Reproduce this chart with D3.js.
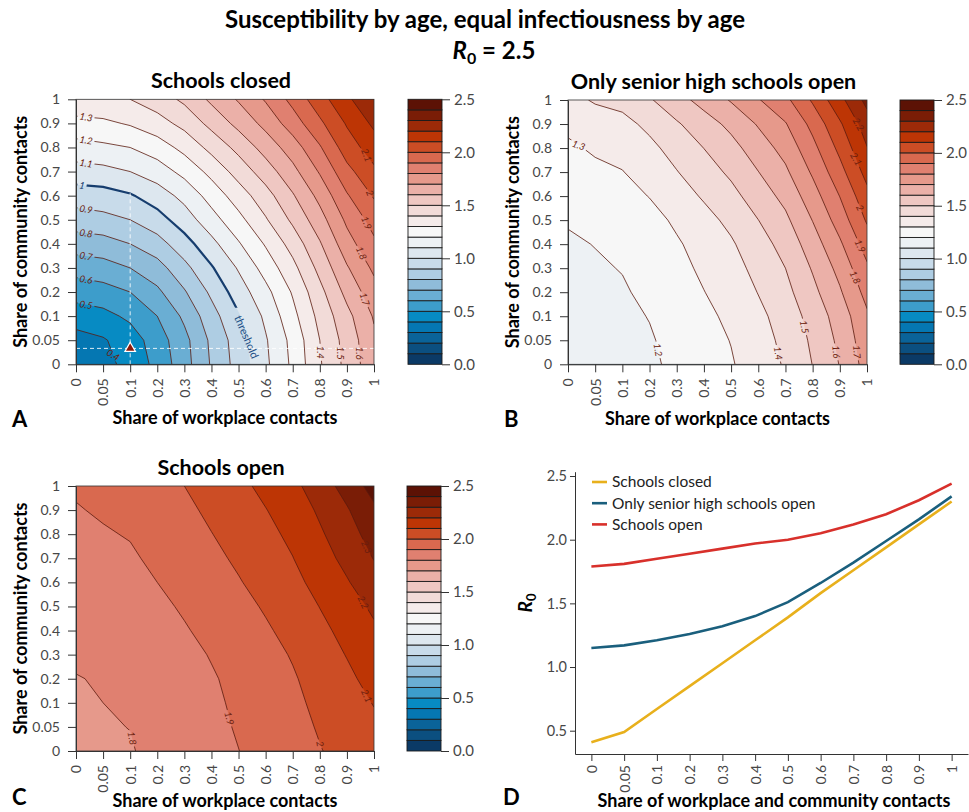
<!DOCTYPE html>
<html>
<head>
<meta charset="utf-8">
<script src="https://cdn.jsdelivr.net/npm/d3@7"></script>
<style>
  body { margin: 0; background: #fff; }
</style>
</head>
<body>
<svg id="chart" width="969" height="812"></svg>
<script>
// share of contacts, the ticks are equally spaced on every axis
var shareTicks = [0, 0.05, 0.1, 0.2, 0.3, 0.4, 0.5, 0.6, 0.7, 0.8, 0.9, 1];

// R0: one row per community share (0 at the bottom),
// one column per workplace share
var closedR0 = [
  [0.32, 0.37, 0.43, 0.53, 0.66, 0.81, 0.94, 1.08, 1.22, 1.39, 1.53, 1.67],
  [0.36, 0.39, 0.45, 0.55, 0.67, 0.82, 0.95, 1.09, 1.23, 1.40, 1.54, 1.68],
  [0.45, 0.47, 0.52, 0.60, 0.72, 0.86, 0.99, 1.12, 1.27, 1.43, 1.57, 1.71],
  [0.54, 0.56, 0.60, 0.68, 0.79, 0.92, 1.05, 1.17, 1.31, 1.47, 1.63, 1.76],
  [0.64, 0.66, 0.70, 0.76, 0.87, 0.99, 1.11, 1.24, 1.37, 1.53, 1.69, 1.82],
  [0.75, 0.76, 0.80, 0.86, 0.96, 1.07, 1.19, 1.31, 1.44, 1.59, 1.76, 1.88],
  [0.85, 0.87, 0.90, 0.96, 1.05, 1.16, 1.27, 1.39, 1.52, 1.66, 1.82, 1.94],
  [0.95, 0.96, 0.99, 1.05, 1.13, 1.24, 1.35, 1.46, 1.59, 1.73, 1.89, 2.01],
  [1.06, 1.07, 1.10, 1.15, 1.23, 1.33, 1.44, 1.55, 1.67, 1.81, 1.97, 2.08],
  [1.16, 1.18, 1.20, 1.25, 1.33, 1.43, 1.53, 1.64, 1.75, 1.89, 2.05, 2.15],
  [1.27, 1.28, 1.31, 1.36, 1.43, 1.53, 1.63, 1.73, 1.85, 1.98, 2.11, 2.22],
  [1.37, 1.38, 1.40, 1.45, 1.52, 1.62, 1.71, 1.81, 1.93, 2.06, 2.18, 2.29]
];

var seniorR0 = [
  [1.150, 1.155, 1.165, 1.185, 1.219, 1.255, 1.292, 1.348, 1.410, 1.502, 1.604, 1.740],
  [1.155, 1.161, 1.171, 1.192, 1.227, 1.265, 1.303, 1.360, 1.424, 1.517, 1.622, 1.760],
  [1.163, 1.170, 1.181, 1.203, 1.240, 1.279, 1.319, 1.377, 1.441, 1.538, 1.645, 1.784],
  [1.172, 1.181, 1.192, 1.217, 1.256, 1.298, 1.341, 1.403, 1.471, 1.573, 1.688, 1.833],
  [1.181, 1.191, 1.203, 1.230, 1.272, 1.317, 1.363, 1.429, 1.500, 1.609, 1.731, 1.883],
  [1.190, 1.202, 1.215, 1.244, 1.289, 1.337, 1.388, 1.459, 1.535, 1.652, 1.784, 1.945],
  [1.206, 1.220, 1.234, 1.267, 1.316, 1.368, 1.424, 1.499, 1.579, 1.703, 1.845, 2.012],
  [1.232, 1.251, 1.266, 1.303, 1.356, 1.411, 1.470, 1.548, 1.629, 1.756, 1.902, 2.070],
  [1.258, 1.281, 1.297, 1.339, 1.396, 1.456, 1.518, 1.598, 1.682, 1.814, 1.965, 2.134],
  [1.285, 1.312, 1.329, 1.376, 1.437, 1.501, 1.567, 1.650, 1.735, 1.870, 2.026, 2.196],
  [1.320, 1.352, 1.371, 1.423, 1.489, 1.556, 1.625, 1.709, 1.793, 1.930, 2.086, 2.252],
  [1.370, 1.410, 1.430, 1.490, 1.563, 1.635, 1.708, 1.793, 1.875, 2.013, 2.170, 2.330]
];

var openR0 = [
  [1.785, 1.790, 1.795, 1.820, 1.846, 1.872, 1.899, 1.928, 1.960, 1.996, 2.030, 2.063],
  [1.790, 1.795, 1.801, 1.826, 1.852, 1.879, 1.907, 1.937, 1.970, 2.008, 2.045, 2.082],
  [1.794, 1.800, 1.806, 1.831, 1.858, 1.885, 1.914, 1.945, 1.980, 2.021, 2.062, 2.104],
  [1.798, 1.804, 1.810, 1.837, 1.864, 1.892, 1.922, 1.954, 1.991, 2.036, 2.081, 2.131],
  [1.808, 1.815, 1.822, 1.848, 1.876, 1.905, 1.935, 1.969, 2.007, 2.055, 2.104, 2.158],
  [1.823, 1.831, 1.839, 1.866, 1.893, 1.923, 1.954, 1.989, 2.027, 2.077, 2.128, 2.185],
  [1.837, 1.846, 1.855, 1.882, 1.910, 1.941, 1.973, 2.009, 2.048, 2.102, 2.156, 2.218],
  [1.852, 1.862, 1.873, 1.900, 1.928, 1.961, 1.994, 2.032, 2.074, 2.131, 2.192, 2.261],
  [1.866, 1.878, 1.889, 1.917, 1.946, 1.979, 2.014, 2.054, 2.098, 2.160, 2.227, 2.304],
  [1.880, 1.893, 1.905, 1.934, 1.963, 1.998, 2.033, 2.075, 2.120, 2.187, 2.258, 2.342],
  [1.895, 1.909, 1.922, 1.952, 1.981, 2.017, 2.054, 2.097, 2.144, 2.215, 2.291, 2.381],
  [1.910, 1.925, 1.940, 1.970, 2.000, 2.038, 2.077, 2.123, 2.174, 2.252, 2.337, 2.440]
];

// panel D: R0 when workplace and community share move together
var closedLine = [0.41, 0.49, 0.67, 0.85, 1.03, 1.21, 1.39, 1.58, 1.76, 1.94, 2.12, 2.30];
var seniorLine = [1.15, 1.17, 1.21, 1.26, 1.32, 1.40, 1.51, 1.66, 1.82, 1.99, 2.16, 2.34];
var openLine   = [1.79, 1.81, 1.85, 1.89, 1.93, 1.97, 2.00, 2.05, 2.12, 2.20, 2.31, 2.44];
var lineNames  = ["Schools closed", "Only senior high schools open", "Schools open"];

// colour bands of 0.1 from 0.0 to 2.5
var bandLevels = d3.range(25).map(function(i){ return i / 10; });
var bandColors = [
  "#0b3a66", "#0b4f80", "#0a6399", "#0577b2", "#078bc3",
  "#3d9dcb", "#6aaed3", "#8fbcd9", "#aecde3", "#c8dbea",
  "#dde7ef", "#edf1f4", "#f7f7f7", "#f5ebea", "#f2dbd8",
  "#efc7c2", "#ebb0a8", "#e6998b", "#e08070", "#d9694f",
  "#cc4d25", "#bd3505", "#9c2a08", "#7a1d06", "#5c1205"
];
var colorbarTicks = [0, 0.5, 1, 1.5, 2, 2.5];
var r0Ticks = [0.5, 1, 1.5, 2, 2.5];

// contour labels, x/y in grid steps (label slides along dir to sit on its line)
var closedLabels = [
  {level: 1.3, x: 0.37, y: 10.23, angle: 10, dir: "v"},
  {level: 1.2, x: 0.37, y: 9.33, angle: 10, dir: "v"},
  {level: 1.1, x: 0.37, y: 8.37, angle: 10, dir: "v"},
  {level: 1,   x: 0.22, y: 7.53, angle: 10, dir: "v"},
  {level: 0.9, x: 0.37, y: 6.44, angle: 10, dir: "v"},
  {level: 0.8, x: 0.37, y: 5.51, angle: 10, dir: "v"},
  {level: 0.7, x: 0.37, y: 4.51, angle: 10, dir: "v"},
  {level: 0.6, x: 0.37, y: 3.6, angle: 10, dir: "v"},
  {level: 0.5, x: 0.37, y: 2.57, angle: 10, dir: "v"},
  {level: 0.4, x: 1.44, y: 0.39, angle: 30, dir: "h"},
  {level: 1.4, x: 9.07, y: 0.5, angle: 90, dir: "h"},
  {level: 1.5, x: 9.8, y: 0.46, angle: 90, dir: "h"},
  {level: 1.6, x: 10.48, y: 0.46, angle: 90, dir: "h"},
  {level: 1.7, x: 10.66, y: 2.32, angle: 72, dir: "v"},
  {level: 1.8, x: 10.54, y: 4.33, angle: 68, dir: "v"},
  {level: 1.9, x: 10.73, y: 5.37, angle: 68, dir: "v"},
  {level: 2,   x: 10.85, y: 6.75, angle: 68, dir: "v"},
  {level: 2.1, x: 10.73, y: 8.48, angle: 68, dir: "v"}
];
var seniorLabels = [
  {level: 1.3, x: 0.39, y: 9.5, angle: 20, dir: "v"},
  {level: 1.2, x: 3.4, y: 0.6, angle: 80, dir: "h"},
  {level: 1.4, x: 7.87, y: 0.46, angle: 80, dir: "h"},
  {level: 1.5, x: 8.79, y: 1.56, angle: 80, dir: "h"},
  {level: 1.6, x: 9.83, y: 0.52, angle: 85, dir: "h"},
  {level: 1.7, x: 10.67, y: 0.52, angle: 85, dir: "h"},
  {level: 1.8, x: 10.57, y: 3.44, angle: 65, dir: "v"},
  {level: 1.9, x: 10.75, y: 4.69, angle: 65, dir: "v"},
  {level: 2,   x: 10.75, y: 6.28, angle: 65, dir: "v"},
  {level: 2.1, x: 10.6, y: 8.43, angle: 60, dir: "v"},
  {level: 2.2, x: 10.69, y: 9.54, angle: 60, dir: "v"}
];
var openLabels = [
  {level: 1.8, x: 2.18, y: 0.53, angle: 80, dir: "h"},
  {level: 1.9, x: 5.68, y: 1.36, angle: 75, dir: "h"},
  {level: 2,   x: 9.1, y: 0.3, angle: 80, dir: "h"},
  {level: 2.1, x: 10.73, y: 2.46, angle: 65, dir: "v"},
  {level: 2.2, x: 10.6, y: 6.4, angle: 65, dir: "v"},
  {level: 2.3, x: 10.73, y: 8.48, angle: 65, dir: "v"}
];

var FONT = "Lato, 'Open Sans', sans-serif";
var svg = d3.select("#chart").attr("font-family", FONT);
var defs = svg.append("defs");

function styleAxis(sel, size) {
  sel.attr("font-family", FONT).attr("font-size", size || 14);
  sel.selectAll(".domain").attr("stroke", "#333");
  sel.selectAll(".tick line").attr("stroke", "#333");
  sel.selectAll(".tick text").attr("fill", "#474747");
}

// bilinear look-up in a grid
function gridValue(values, x, y) {
  var i0 = Math.max(0, Math.min(Math.floor(x), 10)), j0 = Math.max(0, Math.min(Math.floor(y), 10));
  var fx = x - i0, fy = y - j0;
  var low = values[j0][i0] * (1 - fx) + values[j0][i0 + 1] * fx;
  var high = values[j0 + 1][i0] * (1 - fx) + values[j0 + 1][i0 + 1] * fx;
  return low * (1 - fy) + high * fy;
}

function placeOnContour(values, lab) {
  var best = null, bestDist = Infinity, step = 0.01;
  var hint = lab.dir === "v" ? lab.y : lab.x;
  for (var t = 0; t < 11 - step / 2; t += step) {
    var a = lab.dir === "v" ? gridValue(values, lab.x, t) : gridValue(values, t, lab.y);
    var b = lab.dir === "v" ? gridValue(values, lab.x, t + step) : gridValue(values, t + step, lab.y);
    if ((a - lab.level) * (b - lab.level) <= 0 && a !== b) {
      var pos = t + step * (lab.level - a) / (b - a);
      if (Math.abs(pos - hint) < bestDist) { bestDist = Math.abs(pos - hint); best = pos; }
    }
  }
  if (best === null) return {x: lab.x, y: lab.y};
  return lab.dir === "v" ? {x: lab.x, y: best} : {x: best, y: lab.y};
}

function labelWidth(txt) {
  return txt.split("").reduce(function(s, c){ return s + (c === "." ? 2.6 : 5.2); }, 0) + 4;
}

function contourPanel(p) {
  var g = svg.append("g");
  var xs = d3.scaleLinear().domain(shareTicks).range(shareTicks.map(function(d, i){ return p.x0 + i * p.w / 11; }));
  var ys = d3.scaleLinear().domain(shareTicks).range(shareTicks.map(function(d, i){ return p.y0 + p.h - i * p.h / 11; }));
  var xi = d3.scaleLinear().domain([0, 11]).range([p.x0, p.x0 + p.w]);
  var yi = d3.scaleLinear().domain([0, 11]).range([p.y0 + p.h, p.y0]);

  defs.append("clipPath").attr("id", "clip" + p.id).append("rect")
    .attr("x", p.x0).attr("y", p.y0).attr("width", p.w).attr("height", p.h);

  var bands = d3.contours().size([12, 12]).thresholds(bandLevels)(p.values.flat());
  var path = d3.geoPath(d3.geoTransform({
    point: function(x, y) { this.stream.point(xi(x - 0.5), yi(y - 0.5)); }
  }));

  var cg = g.append("g").attr("clip-path", "url(#clip" + p.id + ")");
  cg.selectAll("path.band").data(bands).join("path")
    .attr("class", "band")
    .attr("d", path)
    .attr("fill", function(d){ return bandColors[Math.round(d.value * 10)]; });

  // label spots, the contour lines get a gap under each label
  var placed = p.labels.map(function(l) {
    var pt = placeOnContour(p.values, l);
    return {level: l.level, text: String(l.level), angle: l.angle, px: xi(pt.x), py: yi(pt.y)};
  });
  var mask = defs.append("mask").attr("id", "mask" + p.id)
    .attr("maskUnits", "userSpaceOnUse").attr("x", 0).attr("y", 0).attr("width", 969).attr("height", 812);
  mask.append("rect").attr("width", 969).attr("height", 812).attr("fill", "#fff");
  mask.selectAll("rect.gap").data(placed).join("rect")
    .attr("class", "gap")
    .attr("x", function(d){ return -labelWidth(d.text) / 2; })
    .attr("y", -4.5).attr("width", function(d){ return labelWidth(d.text); }).attr("height", 9)
    .attr("transform", function(d){ return "translate(" + d.px + "," + d.py + ") rotate(" + d.angle + ")"; })
    .attr("fill", "#000");

  var lg = cg.append("g").attr("mask", "url(#mask" + p.id + ")");
  lg.selectAll("path.level").data(bands.filter(function(d){ return d.value > 0 && !(p.threshold && d.value === 1); }))
    .join("path")
    .attr("class", "level")
    .attr("d", path)
    .attr("fill", "none")
    .attr("stroke", "#5a1a0e")
    .attr("stroke-width", 0.8);

  if (p.threshold) {
    defs.append("clipPath").attr("id", "clipThr").append("rect")
      .attr("x", p.x0).attr("y", p.y0).attr("width", p.w).attr("height", yi(2.35) - p.y0);
    lg.append("path").datum(bands.find(function(d){ return d.value === 1; }))
      .attr("clip-path", "url(#clipThr)")
      .attr("d", path)
      .attr("fill", "none")
      .attr("stroke", "#163d6e")
      .attr("stroke-width", 2.2);

    var tp = placeOnContour(p.values, {level: 1, x: 6.3, y: 1.15, dir: "h"});
    g.append("text")
      .attr("transform", "translate(" + xi(tp.x) + "," + yi(tp.y) + ") rotate(67)")
      .attr("text-anchor", "middle").attr("dominant-baseline", "central")
      .attr("font-size", 11).attr("fill", "#1d4f86")
      .text("threshold");

    // reference point and its guide lines
    g.append("line")
      .attr("x1", xs(0.1)).attr("x2", xs(0.1)).attr("y1", ys(0)).attr("y2", ys(0.61))
      .attr("stroke", "#fff").attr("stroke-width", 1).attr("stroke-dasharray", "4,3").attr("opacity", 0.85);
    g.append("line")
      .attr("x1", xs(0)).attr("x2", xs(1)).attr("y1", ys(0.033)).attr("y2", ys(0.033))
      .attr("stroke", "#fff").attr("stroke-width", 1).attr("stroke-dasharray", "4,3").attr("opacity", 0.85);
    g.append("path")
      .attr("d", d3.symbol(d3.symbolTriangle, 48))
      .attr("transform", "translate(" + xs(0.1) + "," + ys(0.033) + ")")
      .attr("fill", "#8b1a0a").attr("stroke", "#fff").attr("stroke-width", 1.2);
  }

  g.selectAll("text.clab").data(placed).join("text")
    .attr("class", "clab")
    .attr("transform", function(d){ return "translate(" + d.px + "," + d.py + ") rotate(" + d.angle + ")"; })
    .attr("text-anchor", "middle").attr("dominant-baseline", "central")
    .attr("font-size", 9.5).attr("font-style", "italic")
    .attr("fill", function(d){ return (p.threshold && d.level === 1) ? "#163d6e" : "#6b1d0e"; })
    .text(function(d){ return d.text; });

  g.append("rect").attr("x", p.x0).attr("y", p.y0).attr("width", p.w).attr("height", p.h)
    .attr("fill", "none").attr("stroke", "#333").attr("stroke-width", 0.8);

  // axes
  var xAx = g.append("g").attr("transform", "translate(0," + (p.y0 + p.h) + ")")
    .call(d3.axisBottom(xs).tickValues(shareTicks).tickFormat(String).tickSize(8).tickSizeOuter(0));
  xAx.selectAll(".tick text")
    .attr("transform", "rotate(-90)").attr("text-anchor", "end")
    .attr("x", -14).attr("y", 0).attr("dy", "0.35em");
  styleAxis(xAx);
  var yAx = g.append("g").attr("transform", "translate(" + p.x0 + ",0)")
    .call(d3.axisLeft(ys).tickValues(shareTicks).tickFormat(String).tickSize(8).tickPadding(8).tickSizeOuter(0));
  styleAxis(yAx);

  // colour bar
  var cy = d3.scaleLinear().domain([0, 2.5]).range([p.y0 + p.h, p.y0]);
  g.selectAll("rect.cb").data(bandLevels).join("rect")
    .attr("class", "cb")
    .attr("x", p.cbX).attr("width", 34)
    .attr("y", function(d){ return cy(d + 0.1); })
    .attr("height", function(d){ return cy(d) - cy(d + 0.1); })
    .attr("fill", function(d, i){ return bandColors[i]; })
    .attr("stroke", "#1b1b1b").attr("stroke-width", 0.9);
  var cbAx = g.append("g").attr("transform", "translate(" + (p.cbX + 34) + ",0)")
    .call(d3.axisRight(cy).tickValues(colorbarTicks).tickFormat(d3.format(".1f")).tickSize(8).tickPadding(4).tickSizeOuter(0));
  styleAxis(cbAx, 15);
  cbAx.select(".domain").remove();

  // titles
  g.append("text").attr("x", p.x0 + p.w / 2 - 4).attr("y", p.y0 - 11.5)
    .attr("text-anchor", "middle").attr("font-size", 21.5).attr("font-weight", "bold").text(p.title);
  g.append("text").attr("x", p.x0 + p.w / 2).attr("y", p.xTitleY)
    .attr("text-anchor", "middle").attr("font-size", 18).attr("font-weight", "bold").text("Share of workplace contacts");
  g.append("text").attr("transform", "translate(" + (p.x0 - 49) + "," + (p.y0 + p.h / 2) + ") rotate(-90)")
    .attr("text-anchor", "middle").attr("font-size", 18).attr("font-weight", "bold").text("Share of community contacts");
  g.append("text").attr("x", p.x0 - 64).attr("y", p.letterY)
    .attr("font-size", 22).attr("font-weight", "bold").text(p.id);
}

// main title
svg.append("text").attr("x", 485).attr("y", 28).attr("text-anchor", "middle")
  .attr("font-size", 24).attr("font-weight", "bold")
  .text("Susceptibility by age, equal infectiousness by age");
var r0Title = svg.append("text").attr("x", 494).attr("y", 59).attr("text-anchor", "middle")
  .attr("font-size", 24).attr("font-weight", "bold");
r0Title.append("tspan").attr("font-style", "italic").text("R");
r0Title.append("tspan").attr("font-size", 16).attr("dy", 5).text("0");
r0Title.append("tspan").attr("dy", -5).text(" = 2.5");

contourPanel({id: "A", x0: 76, y0: 99.3, w: 298, h: 265, cbX: 408, xTitleY: 424, letterY: 427,
  title: "Schools closed", values: closedR0, labels: closedLabels, threshold: true});
contourPanel({id: "B", x0: 568, y0: 100, w: 299, h: 264.3, cbX: 900, xTitleY: 425, letterY: 427,
  title: "Only senior high schools open", values: seniorR0, labels: seniorLabels});
contourPanel({id: "C", x0: 76, y0: 486, w: 298, h: 265, cbX: 407, xTitleY: 807, letterY: 805,
  title: "Schools open", values: openR0, labels: openLabels});

// panel D
var gd = svg.append("g");
var dx = d3.scalePoint().domain(shareTicks.map(String)).range([575, 968]).padding(0.5);
var dy = d3.scaleLinear().domain([0.317, 2.534]).range([754, 471.7]);

var dxAx = gd.append("g").attr("transform", "translate(0,754)")
  .call(d3.axisBottom(dx).tickSize(7).tickSizeOuter(0));
dxAx.selectAll(".tick text")
  .attr("transform", "rotate(-90)").attr("text-anchor", "end")
  .attr("x", -11).attr("y", 0).attr("dy", "0.35em");
styleAxis(dxAx);
var dyAx = gd.append("g").attr("transform", "translate(575,0)")
  .call(d3.axisLeft(dy).tickValues(r0Ticks).tickFormat(d3.format(".1f")).tickSize(5).tickPadding(3).tickSizeOuter(0));
styleAxis(dyAx, 14.5);

var series = [
  {name: lineNames[0], values: closedLine, color: "#e8b01c"},
  {name: lineNames[1], values: seniorLine, color: "#1a5f7d"},
  {name: lineNames[2], values: openLine, color: "#d8302b"}
];
var line = d3.line()
  .x(function(d, i){ return dx(String(shareTicks[i])); })
  .y(function(d){ return dy(d); });
gd.selectAll("path.series").data(series).join("path")
  .attr("class", "series")
  .attr("d", function(s){ return line(s.values); })
  .attr("fill", "none")
  .attr("stroke", function(s){ return s.color; })
  .attr("stroke-width", 2.6);

var leg = gd.selectAll("g.leg").data(series).join("g")
  .attr("class", "leg")
  .attr("transform", function(s, i){ return "translate(592," + (482 + i * 21.2) + ")"; });
leg.append("line").attr("x1", 0).attr("x2", 15).attr("stroke", function(s){ return s.color; }).attr("stroke-width", 2.6);
leg.append("text").attr("x", 20).attr("dy", "0.35em").attr("font-size", 15.5).attr("fill", "#222")
  .text(function(s){ return s.name; });

gd.append("text").attr("x", 774).attr("y", 807).attr("text-anchor", "middle")
  .attr("font-size", 18).attr("font-weight", "bold").text("Share of workplace and community contacts");
var r0Label = gd.append("text").attr("transform", "translate(532,603) rotate(-90)")
  .attr("text-anchor", "middle").attr("font-size", 19).attr("font-weight", "bold");
r0Label.append("tspan").attr("font-style", "italic").text("R");
r0Label.append("tspan").attr("font-size", 13).attr("dy", 4).text("0");
gd.append("text").attr("x", 503).attr("y", 805).attr("font-size", 22).attr("font-weight", "bold").text("D");
</script>
</body>
</html>
